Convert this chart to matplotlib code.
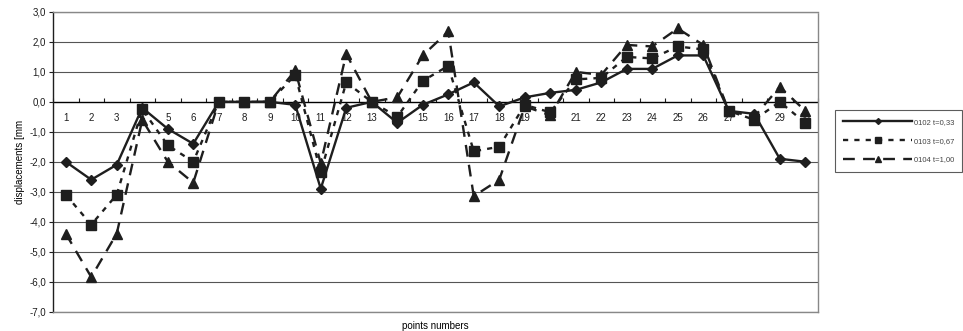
import matplotlib
matplotlib.use("Agg")
import matplotlib.pyplot as plt
import numpy as np

points = list(range(1, 31))
labels = ["0102 t=0,33", "0103 t=0,67", "0104 t=1,00"]

d_0102 = [-2.0, -2.6, -2.1, -0.2, -0.9, -1.4, 0.0, 0.0, 0.0, -0.1,
          -2.9, -0.2, 0.0, -0.7, -0.1, 0.25, 0.65, -0.15, 0.15, 0.3,
          0.4, 0.65, 1.1, 1.1, 1.55, 1.55, -0.3, -0.4, -1.9, -2.0]
d_0103 = [-3.1, -4.1, -3.1, -0.25, -1.45, -2.0, 0.0, 0.0, 0.0, 0.9,
          -2.35, 0.65, 0.0, -0.5, 0.7, 1.2, -1.65, -1.5, -0.1, -0.35,
          0.75, 0.8, 1.5, 1.45, 1.85, 1.75, -0.3, -0.6, 0.0, -0.7]
d_0104 = [-4.4, -5.85, -4.4, -0.6, -2.0, -2.7, 0.0, 0.0, 0.0, 1.05,
          -2.05, 1.6, 0.0, 0.15, 1.55, 2.35, -3.15, -2.6, -0.15, -0.45,
          1.0, 0.9, 1.9, 1.85, 2.45, 1.9, -0.3, -0.5, 0.5, -0.3]

yticks = np.arange(-7, 3.01, 1.0)
ytick_labels = [f"{v:.1f}".replace(".", ",") for v in yticks]

plt.rcParams["font.family"] = ["Liberation Sans", "DejaVu Sans"]

fig = plt.figure(figsize=(9.63, 3.31), dpi=100)
ax = fig.add_axes([53 / 963, 1 - 311.5 / 331, (818 - 53) / 963, (311.5 - 12) / 331])

ink = "#1e1e1e"
x = np.array(points)

ax.plot(x, d_0102, color=ink, lw=1.7, marker="D", ms=5, label=labels[0], zorder=5)
ax.plot(x, d_0103, color=ink, lw=1.7, ls=(0, (2.2, 2.6)), marker="s", ms=6.5,
        label=labels[1], zorder=4)
ax.plot(x, d_0104, color=ink, lw=1.7, ls=(0, (5, 3.5)), marker="^", ms=7,
        label=labels[2], zorder=3)

ax.set_xlim(0.5, 30.5)
ax.set_ylim(-7, 3)
ax.set_yticks(yticks)
ax.set_yticklabels(ytick_labels, fontsize=7)
ax.tick_params(axis="y", length=3, width=0.8, direction="out", pad=2, colors=ink)
ax.set_xticks([])

for yv in yticks:
    if yv == 0:
        continue
    ax.axhline(yv, color="#555555", lw=0.8, zorder=1)
ax.axhline(0, color="#000000", lw=1.0, zorder=2)

for side in ["top", "right", "bottom"]:
    ax.spines[side].set_color("#888888")
    ax.spines[side].set_linewidth(1.0)
    ax.spines[side].set_linestyle((0, (1, 1)))
ax.spines["left"].set_color(ink)
ax.spines["left"].set_linewidth(1.0)

# category axis crossing at zero
sec = ax.secondary_xaxis((0 - (-7)) / 10)
sec.set_alignment("bottom")
sec.set_xticks(x)
sec.set_xticklabels([str(p) for p in points], fontsize=7)
sec.set_xticks(np.arange(0.5, 31, 1.0), minor=True)
sec.tick_params(axis="x", which="major", length=0, pad=8, colors=ink)
sec.tick_params(axis="x", which="minor", length=3, direction="in", width=0.8, colors=ink)
sec.spines["bottom"].set_visible(False)
sec.spines["top"].set_visible(False)

ax.set_ylabel("displacements [mm", fontsize=7, labelpad=3)
ax.set_xlabel("points numbers", fontsize=7, labelpad=7)

leg = fig.legend(loc="upper left", bbox_to_anchor=(835 / 963, 1 - 110 / 331),
                 fontsize=5.5, handlelength=9.0, numpoints=1, frameon=True,
                 fancybox=False, borderpad=1.1, labelspacing=1.5,
                 handletextpad=0.2, borderaxespad=0, markerscale=0.6)
leg.get_frame().set_edgecolor("#333333")
leg.get_frame().set_linewidth(0.8)
for t in leg.get_texts():
    t.set_color("#444444")

fig.savefig("out.png", dpi=100)
